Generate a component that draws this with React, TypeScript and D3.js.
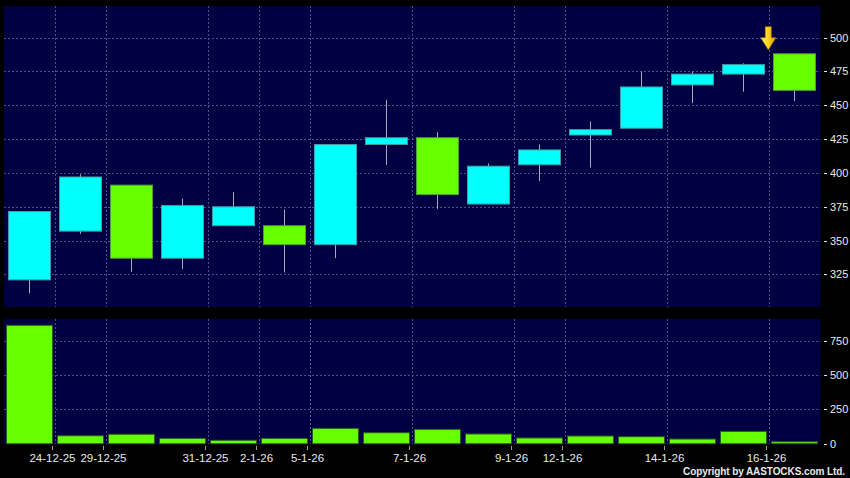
import React from "react";
import * as d3 from "d3";

const dates = ["23-12-25","24-12-25","29-12-25","30-12-25","31-12-25","2-1-26","5-1-26","6-1-26","7-1-26","8-1-26","9-1-26","12-1-26","13-1-26","14-1-26","15-1-26","16-1-26"];
const opens  = [321, 357, 391, 337, 361, 361, 347, 421, 426, 377, 406, 428, 433, 465, 473, 488];
const highs  = [372, 399, 391, 381, 386, 373, 421, 454, 430, 407, 421, 438, 475, 475, 481, 488];
const lows   = [311, 355, 327, 329, 361, 326.5, 337, 406, 373.5, 377, 394, 404, 433, 451.5, 460, 453];
const closes = [371.5, 397, 337, 376, 375, 347, 421, 426, 384, 405, 417, 432, 463.5, 473, 480, 461];
const volumes = [865, 58, 69, 39, 25, 39, 112, 80, 105, 71, 42, 56, 51, 34, 90, 14];
const labeledDates = ["24-12-25","29-12-25","31-12-25","2-1-26","5-1-26","7-1-26","9-1-26","12-1-26","14-1-26","16-1-26"];
const priceTicks = [325, 350, 375, 400, 425, 450, 475, 500];
const volTicks = [0, 250, 500, 750];

const W = 850, H = 478;
const L = 4, R = 820.5;
const mainTop = 6, mainBot = 307;
const volTop = 319, volBot = 444;
const FONT = "'Liberation Sans', Arial, sans-serif";
const GRID = "#4e4e8a";
const PANEL = "#000042";
const TXT = "#e8e8e8";

export default function App() {
  const x = d3.scaleBand<string>().domain(dates).range([3.8, 819.8]).padding(0);
  const bw = x.bandwidth();
  const y = d3.scaleLinear().domain([301.7, 523.3]).range([mainBot - 1, mainTop]);
  const yv = d3.scaleLinear().domain([0, 911]).range([volBot - 0.3, volTop]);

  const gridXs = labeledDates.map((d) => (x(d) as number) + 0.5);
  const last = dates[dates.length - 1];
  const ax = (x(last) as number) - 0.5;
  const tipY = y(highs[highs.length - 1]) - 4;

  return (
    <svg width={W} height={H} style={{ position: "absolute", left: 0, top: 0, background: "#000" }} fontFamily={FONT}>
      <defs>
        <linearGradient id="arrowG" x1="0" x2="1" y1="0" y2="0">
          <stop offset="0" stopColor="#fff07a" />
          <stop offset="0.5" stopColor="#ffd21e" />
          <stop offset="1" stopColor="#d89a00" />
        </linearGradient>
      </defs>
      <rect x={0} y={0} width={W} height={H} fill="#000" />
      {/* main panel */}
      <rect x={L} y={mainTop} width={R - L} height={mainBot - mainTop} fill={PANEL} />
      {priceTicks.map((t) => (
        <line key={"pg" + t} x1={L} x2={R} y1={Math.round(y(t)) + 0.5} y2={Math.round(y(t)) + 0.5} stroke={GRID} strokeDasharray="2,2" />
      ))}
      {gridXs.map((gx, i) => (
        <line key={"pv" + i} x1={Math.round(gx) + 0.5} x2={Math.round(gx) + 0.5} y1={mainTop} y2={mainBot} stroke={GRID} strokeDasharray="2,2" />
      ))}
      {dates.map((d, i) => {
        const cx = Math.round((x(d) as number) + bw / 2) + 0.5;
        const up = closes[i] >= opens[i];
        const top = y(Math.max(opens[i], closes[i]));
        const bot = y(Math.min(opens[i], closes[i]));
        const bwid = 42;
        return (
          <g key={"c" + i}>
            <line x1={cx} x2={cx} y1={y(highs[i])} y2={y(lows[i])} stroke="#a8a8b8" strokeWidth={1} />
            <rect x={cx - bwid / 2} y={top} width={bwid} height={Math.max(1, bot - top)}
              fill={up ? "#00ffff" : "#66ff00"} stroke={up ? "#3e9c9c" : "#4f9a3a"} strokeWidth={1} />
          </g>
        );
      })}
      {/* arrow */}
      <path
        d={`M${ax - 3},${tipY - 23} L${ax + 3},${tipY - 23} L${ax + 3},${tipY - 12} L${ax + 7.5},${tipY - 12} L${ax},${tipY} L${ax - 7.5},${tipY - 12} L${ax - 3},${tipY - 12} Z`}
        fill="url(#arrowG)" stroke="#b88400" strokeWidth={0.6}
      />
      {priceTicks.map((t) => (
        <g key={"pt" + t}>
          <line x1={824} x2={827} y1={Math.round(y(t)) + 0.5} y2={Math.round(y(t)) + 0.5} stroke={TXT} />
          <text x={830} y={y(t)} dy="0.36em" fontSize={11} fill={TXT}>{t}</text>
        </g>
      ))}
      {/* volume panel */}
      <rect x={L} y={volTop} width={R - L} height={volBot - volTop} fill={PANEL} />
      {volTicks.filter((t) => t > 0).map((t) => (
        <line key={"vg" + t} x1={L} x2={R} y1={Math.round(yv(t)) + 0.5} y2={Math.round(yv(t)) + 0.5} stroke={GRID} strokeDasharray="2,2" />
      ))}
      {gridXs.map((gx, i) => (
        <line key={"vv" + i} x1={Math.round(gx) + 0.5} x2={Math.round(gx) + 0.5} y1={volTop} y2={volBot} stroke={GRID} strokeDasharray="2,2" />
      ))}
      {dates.map((d, i) => {
        const cx = (x(d) as number) + bw / 2;
        const vw = 46;
        return (
          <rect key={"v" + i} x={Math.round(cx - vw / 2) + 0.5} y={yv(volumes[i])} width={vw}
            height={Math.max(1, yv(0) - yv(volumes[i]))} fill="#66ff00" stroke="#2c5a1c" strokeWidth={1} />
        );
      })}
      {volTicks.map((t) => (
        <g key={"vt" + t}>
          <line x1={824} x2={827} y1={Math.round(yv(t)) + 0.5} y2={Math.round(yv(t)) + 0.5} stroke={TXT} />
          <text x={830} y={yv(t)} dy="0.36em" fontSize={11} fill={TXT}>{t}</text>
        </g>
      ))}
      {/* x axis */}
      {labeledDates.map((d) => {
        const tx = Math.round((x(d) as number) - 3) + 0.5;
        return (
          <g key={"xl" + d}>
            <line x1={tx} x2={tx} y1={446} y2={450} stroke="#9a9a9a" />
            <text x={tx} y={462} textAnchor="middle" fontSize={11.5} fill={TXT}>{d}</text>
          </g>
        );
      })}
      <text x={845} y={475} textAnchor="end" fontSize={10} fontWeight="bold" fill={TXT} textLength={162} lengthAdjust="spacing">
        Copyright by AASTOCKS.com Ltd.
      </text>
    </svg>
  );
}
